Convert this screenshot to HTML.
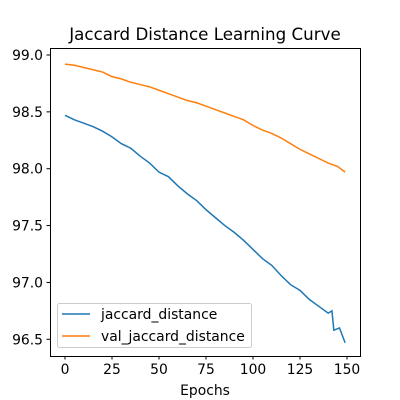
<!DOCTYPE html>
<html><head><meta charset="utf-8"><style>
body{margin:0;background:#fff;}
svg{display:block;font-family:"DejaVu Sans","Liberation Sans",sans-serif;}
</style></head><body>
<svg id="chart" width="400" height="400">
<rect x="0" y="0" width="400" height="400" fill="#fff"/>
<text x="205" y="40" font-size="16.7" text-anchor="middle">Jaccard Distance Learning Curve</text>
<g id="xticks"></g><g id="yticks"></g>
<g id="series"></g>
<rect x="50.5" y="48.5" width="310" height="308" fill="none" stroke="#000" stroke-width="1"/>
<text x="205" y="395" font-size="13.9" text-anchor="middle">Epochs</text>
<g>
<rect x="57.5" y="303.5" width="194" height="44" rx="2" fill="#fff" fill-opacity="0.8" stroke="#ccc"/>
<line x1="62" y1="314" x2="90" y2="314" stroke="#1f77b4" stroke-width="1.5"/>
<text x="101" y="319" font-size="13.9">jaccard_distance</text>
<line x1="62" y1="336" x2="90" y2="336" stroke="#ff7f0e" stroke-width="1.5"/>
<text x="101" y="341" font-size="13.9">val_jaccard_distance</text>
</g>
</svg>
<script>
const epochs=[0,5,10,15,20,25,30,35,40,45,50,55,60,65,70,75,80,85,90,95,100,105,110,115,120,125,130,135,140,142,143,146,149];
const trainValues=[98.47,98.43,98.40,98.37,98.33,98.28,98.22,98.18,98.11,98.05,97.97,97.93,97.85,97.78,97.72,97.64,97.57,97.50,97.44,97.37,97.29,97.21,97.15,97.06,96.98,96.93,96.85,96.79,96.73,96.75,96.58,96.60,96.47];
const valEpochs=[0,5,10,15,20,25,30,35,40,45,50,55,60,65,70,75,80,85,90,95,100,105,110,115,120,125,130,135,140,145,149];
const valValues=[98.92,98.91,98.89,98.87,98.85,98.81,98.79,98.76,98.74,98.72,98.69,98.66,98.63,98.60,98.58,98.55,98.52,98.49,98.46,98.43,98.38,98.34,98.31,98.27,98.22,98.17,98.13,98.09,98.05,98.02,97.97];
const xTickLabels=[0,25,50,75,100,125,150];
const yTickLabels=[96.5,97.0,97.5,98.0,98.5,99.0];
const NS='http://www.w3.org/2000/svg';
function xs(v){return 65+v*282/150;}
function ys(v){return 55+(99-v)*113.72;}
const xt=document.getElementById('xticks'),yt=document.getElementById('yticks'),sg=document.getElementById('series');
xTickLabels.forEach(v=>{
  const l=document.createElementNS(NS,'line');
  l.setAttribute('x1',xs(v));l.setAttribute('x2',xs(v));l.setAttribute('y1',356);l.setAttribute('y2',359.5);l.setAttribute('stroke','#000');
  
  
  xt.appendChild(l);
  const t=document.createElementNS(NS,'text');
  t.setAttribute('x',xs(v));t.setAttribute('y',374);t.setAttribute('font-size','13.9');t.setAttribute('text-anchor','middle');t.textContent=v;
  
  
  xt.appendChild(t);
});
yTickLabels.forEach(v=>{
  const l=document.createElementNS(NS,'line');
  l.setAttribute('x1',46.5);l.setAttribute('x2',50);l.setAttribute('y1',ys(v));l.setAttribute('y2',ys(v));l.setAttribute('stroke','#000');
  
  
  yt.appendChild(l);
  const t=document.createElementNS(NS,'text');
  t.setAttribute('x',43);t.setAttribute('y',ys(v)+5);t.setAttribute('font-size','13.9');t.setAttribute('text-anchor','end');t.textContent=v.toFixed(1);
  
  
  yt.appendChild(t);
});
function line(xv,yv,color,name){
  const p=document.createElementNS(NS,'polyline');
  p.setAttribute('points',xv.map((x,i)=>xs(x).toFixed(2)+','+ys(yv[i]).toFixed(2)).join(' '));
  p.setAttribute('fill','none');p.setAttribute('stroke',color);p.setAttribute('stroke-width','1.5');
  
  
  sg.appendChild(p);
}
line(epochs,trainValues,'#1f77b4','train-line');
line(valEpochs,valValues,'#ff7f0e','val-line');
</script>
</body></html>
